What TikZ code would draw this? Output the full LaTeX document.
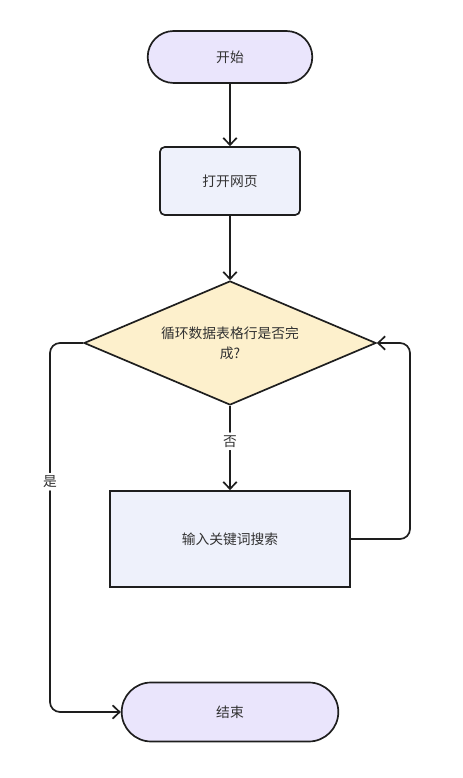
\documentclass[tikz,border=0pt]{standalone}
\usepackage{fontspec}
\setmainfont{Noto Sans CJK SC}
\usepackage{tikz}
\usetikzlibrary{shapes,shapes.misc,shapes.geometric,arrows,arrows.meta}
\definecolor{termfill}{RGB}{234,229,252}
\definecolor{stepfill}{RGB}{238,241,251}
\definecolor{testfill}{RGB}{253,240,204}
\definecolor{inkline}{RGB}{30,30,30}
\definecolor{inktext}{RGB}{50,50,50}

\begin{document}
\begin{tikzpicture}[
  >={Straight Barb[length=5pt,width=9.5pt]},
  terminal/.style={rounded rectangle, draw=inkline, fill=termfill, line width=1.2pt, text=inktext},
  stepbox/.style={rectangle, draw=inkline, fill=stepfill, line width=1.2pt, text=inktext},
  testbox/.style={diamond, draw=inkline, fill=testfill, line width=1.2pt, text=inktext, aspect=2.35, inner sep=0pt, align=center},
  flow/.style={->, draw=inkline, line width=1.2pt, rounded corners=0.25cm},
  lbl/.style={fill=white, text=inktext, inner sep=2pt},
  every node/.style={font=\fontsize{9.8}{14}\selectfont}]
\useasboundingbox (0,0) rectangle (11.575,19.45);
\node[terminal, minimum width=4.35cm, minimum height=1.3cm] (start) at (5.75,18.025) {开始};
\node[stepbox, rounded corners=0.12cm, minimum width=3.5cm, minimum height=1.7cm] (open) at (5.75,14.925) {打开网页};
\node[testbox, minimum width=7.3cm, minimum height=3.1cm] (loop) at (5.75,10.875) {循环数据表格行是否完\\成?};
\node[stepbox, minimum width=6cm, minimum height=2.4cm] (search) at (5.75,5.975) {输入关键词搜索};
\node[terminal, minimum width=5.65cm, minimum height=1.475cm] (stop) at (5.75,1.65) {结束};
\coordinate (backR) at (10.25,5.975);
\coordinate (backT) at (10.25,10.875);
\coordinate (yesT) at (1.25,10.875);
\coordinate (yesB) at (1.25,1.65);
\draw[flow] (start) -- (open);
\draw[flow] (open) -- (loop);
\draw[flow] (loop) -- node[lbl, pos=0.42] {否} (search);
\draw[flow] (search) -- (backR) -- (backT) -- (loop.east);
\draw[flow] (loop.west) -- (yesT) -- node[lbl, pos=0.376] {是} (yesB) -- (stop.west);
\end{tikzpicture}
\end{document}
